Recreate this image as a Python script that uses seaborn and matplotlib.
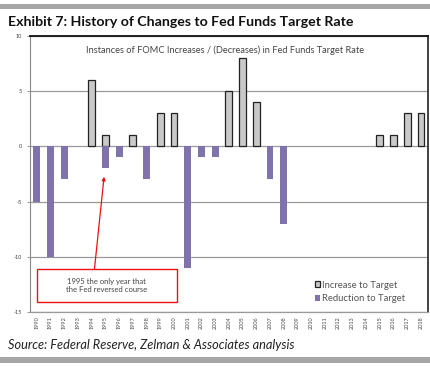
import pandas as pd
import seaborn as sns
import matplotlib.pyplot as plt
from matplotlib.patches import Rectangle

years = [str(y) for y in range(1990, 2019)]
increases = [0, 0, 0, 0, 6, 1, 0, 1, 0, 3, 3, 0, 0, 0, 5, 8, 4, 0, 0,
             0, 0, 0, 0, 0, 0, 1, 1, 3, 3]
decreases = [-5, -10, -3, 0, 0, -2, -1, 0, -3, 0, 0, -11, -1, -1, 0, 0, 0, -3, -7,
             0, 0, 0, 0, 0, 0, 0, 0, 0, 0]
yticks = [10, 5, 0, -5, -10, -15]

inc_df = pd.DataFrame({'year': years, 'value': increases})
dec_df = pd.DataFrame({'year': years, 'value': decreases})
# empty years get no bar at all
inc_df = inc_df[inc_df['value'] != 0]
dec_df = dec_df[dec_df['value'] != 0]

sns.set_style('white')
plt.rcParams['font.family'] = ['Lato', 'DejaVu Sans']

fig = plt.figure(figsize=(4.31, 3.67), dpi=100)
ax = fig.add_axes([0.0696, 0.150, 0.923, 0.752])

gray = '#c9c9c9'
purple = '#7b68b5'
sns.barplot(data=inc_df, x='year', y='value', order=years, color=gray,
            width=0.5, edgecolor='#222222', linewidth=0.9, ax=ax,
            label='Increase to Target')
sns.barplot(data=dec_df, x='year', y='value', order=years, color=purple,
            width=0.5, linewidth=0, ax=ax, label='Reduction to Target')

ax.set_xlim(-0.5, len(years) - 0.5)
ax.set_ylim(-15, 10)
ax.set_yticks(yticks)
ax.set_yticklabels([str(t) for t in yticks], fontsize=4, color='#444444')
ax.set_xticks(range(len(years)))
ax.set_xticklabels(years, rotation=90, fontsize=4, color='#444444')
ax.tick_params(axis='x', length=0, pad=3)
ax.tick_params(axis='y', length=2, width=0.6, color='#888888', pad=4, left=True)
ax.set_xlabel('')
ax.set_ylabel('')
ax.set_axisbelow(True)
ax.yaxis.grid(True, color='#9a9a9a', lw=0.9)

for s in ['top', 'right', 'left', 'bottom']:
    ax.spines[s].set_visible(True)
ax.spines['top'].set_color('#111111')
ax.spines['top'].set_linewidth(1.3)
ax.spines['right'].set_color('#333333')
ax.spines['right'].set_linewidth(1.3)
ax.spines['left'].set_color('#888888')
ax.spines['left'].set_linewidth(0.8)
ax.spines['bottom'].set_color('#9a9a9a')
ax.spines['bottom'].set_linewidth(0.9)

ax.text(0.49, 0.965, 'Instances of FOMC Increases / (Decreases) in Fed Funds Target Rate',
        transform=ax.transAxes, ha='center', va='top', fontsize=6.7, color='#444444')

# annotation
ax.add_patch(Rectangle((0.0, -14.1), 10.2, 3.0, ec='#ee1111', fc='white', lw=1.0, zorder=3))
ax.text(5.1, -12.6, '1995 the only year that\nthe Fed reversed course', ha='center', va='center',
        fontsize=5.5, color='#444444', linespacing=1.3, zorder=4)
ax.annotate('', xy=(4.9, -2.75), xytext=(4.2, -11.1),
            arrowprops=dict(arrowstyle='-|>', color='#ee1111', lw=0.9,
                            mutation_scale=5, shrinkA=0, shrinkB=0), zorder=4)

ax.legend(loc='lower right', bbox_to_anchor=(0.965, 0.0), frameon=False, fontsize=6.8,
          handlelength=0.6, handleheight=0.6, handletextpad=0.2, labelspacing=0.5,
          labelcolor='#555555')

fig.text(0.019, 0.94, 'Exhibit 7: History of Changes to Fed Funds Target Rate',
         fontsize=10.2, fontweight='bold', color='#111111', va='center')
fig.text(0.019, 0.06, 'Source: Federal Reserve, Zelman & Associates analysis',
         fontsize=9.2, style='italic', color='#222222', va='center')

fig.patches.append(Rectangle((0.0, 0.975), 1.0, 0.014, transform=fig.transFigure,
                             fc='#a6a6a6', ec='none'))
fig.patches.append(Rectangle((0.0, 0.012), 1.0, 0.014, transform=fig.transFigure,
                             fc='#a6a6a6', ec='none'))

plt.savefig('out.png', dpi=100)
